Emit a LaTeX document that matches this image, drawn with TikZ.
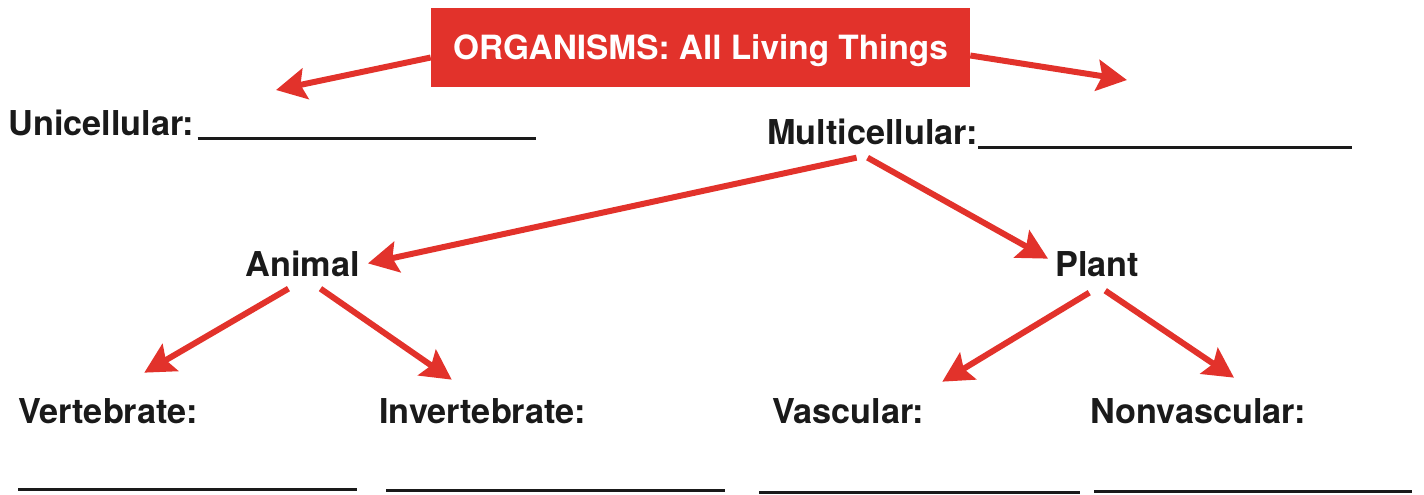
\documentclass[tikz,border=0pt]{standalone}
\usepackage{fontspec}
\setmainfont{TeX Gyre Heros}
\usepackage{xcolor}
\usetikzlibrary{positioning, arrows.meta, calc}
\definecolor{signal}{HTML}{E2322B}
\definecolor{ink}{HTML}{1A1A1A}

\begin{document}
\begin{tikzpicture}[x=0.02cm, y=-0.02cm,
        title/.style={rectangle, fill=signal, text=white, font=\fontsize{19}{22}\selectfont\bfseries,
                      minimum width=10.78cm, minimum height=1.58cm, inner sep=0pt,
                      text height=13.7pt, text depth=0pt},
        term/.style={anchor=base west, inner sep=0pt, text=ink,
                     font=\fontsize{19.5}{22}\selectfont\bfseries},
        arr/.style={draw=signal, line width=0.12cm,
                    -{Stealth[length=0.6cm, width=0.62cm, inset=0.1cm]}},
        blank/.style={draw=ink, line width=0.06cm}
      ]
        \useasboundingbox (0,0) rectangle (1424,494);

        \node[title] (org) at (700.5,47.5) {ORGANISMS: All Living Things};

        \node[term] (uni) at (8,135) {Unicellular:};
        \node[term] (multi) at (767,144) {Multicellular:};
        \node[term] (animal) at (245,276) {Animal};
        \node[term] (plant) at (1055,276) {Plant};
        \node[term] (vert) at (18,423) {Vertebrate:};
        \node[term] (invert) at (379,423) {Invertebrate:};
        \node[term] (vasc) at (772,423) {Vascular:};
        \node[term] (nonvasc) at (1090,423) {Nonvascular:};

        \coordinate (uniend) at (276,90);
        \coordinate (multiend) at (1127,80);

        % arrows
        \draw[arr] ($(org.west)+(0,10)$) -- (uniend);
        \draw[arr] ($(org.east)+(0,8)$) -- (multiend);
        \draw[arr] ($(multi.south)+(-16,13)$) -- ($(animal.east)+(8,0)$);
        \draw[arr] ($(multi.south)+(-5,13)$) -- ($(plant.west)+(-7,-5)$);
        \draw[arr] ($(animal.south)+(-14,12)$) -- ($(vert.north)+(36,-25)$);
        \draw[arr] ($(animal.south)+(18,12)$) -- ($(invert.north)+(-31,-18)$);
        \draw[arr] ($(plant.south)+(-8,16)$) -- ($(vasc.north)+(94,-16)$);
        \draw[arr] ($(plant.south)+(8,14)$) -- ($(nonvasc.north)+(36,-20)$);

        % answer lines
        \draw[blank] ($(uni.base east)+(3,3)$) -- +(338,0);
        \draw[blank] ($(multi.base east)+(0,3)$) -- +(374,0);
        \draw[blank] ($(vert.base west)+(0,66)$) -- +(339,0);
        \draw[blank] ($(invert.base west)+(7,67)$) -- +(339,0);
        \draw[blank] ($(vasc.base west)+(-13,69)$) -- +(321,0);
        \draw[blank] ($(nonvasc.base west)+(4,68)$) -- +(318,0);
      \end{tikzpicture}
\end{document}
